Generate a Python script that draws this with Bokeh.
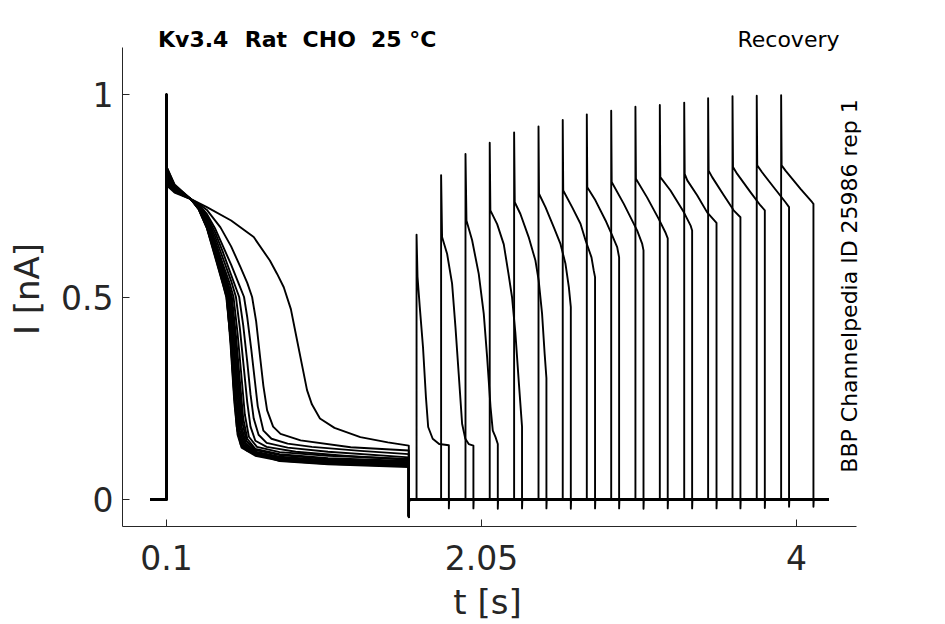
import math
from bokeh.plotting import figure
from bokeh.models import ColumnDataSource, FixedTicker, Label, Range1d
from bokeh.embed import file_html
from bokeh.resources import INLINE

# ---------------- data ----------------
x_ticks = [0.1, 2.05, 4]
x_tick_labels = ["0.1", "2.05", "4"]
y_ticks = [0, 0.5, 1]
y_tick_labels = ["0", "0.5", "1"]

rec_start = 0.0
rec_end = 4.2
pre_on = 0.1
pre_off = 1.6

# capacitive spike at prepulse onset, per sweep
pre_peak = [1.0, 0.9, 1.0, 0.98, 1.0, 0.97, 1.0, 0.99, 1.0, 0.96, 1.0, 0.98, 1.0, 0.99, 1.0, 0.97]
pre_tail = [-0.042, -0.04, -0.042, -0.041, -0.043, -0.04, -0.042, -0.041, -0.044, -0.04, -0.042, -0.041, -0.043, -0.04, -0.042, -0.041]

# prepulse current per sweep (time [s], current [nA])
pre_t = [
    [0.102, 0.13, 0.23, 0.35, 0.5, 0.64, 0.74, 0.785, 0.826, 0.87, 0.9, 0.94, 0.97, 1.0, 1.05, 1.14, 1.3, 1.47, 1.6],
    [0.102, 0.15, 0.25, 0.3, 0.35, 0.434, 0.5, 0.558, 0.6, 0.63, 0.655, 0.68, 0.7, 0.723, 0.76, 0.806, 0.93, 1.24, 1.6],
    [0.102, 0.15, 0.25, 0.3, 0.35, 0.4, 0.45, 0.5, 0.55, 0.58, 0.6, 0.625, 0.645, 0.665, 0.7, 0.75, 0.85, 1.0, 1.3, 1.6],
    [0.102, 0.15, 0.25, 0.3, 0.35, 0.4, 0.45, 0.5, 0.55, 0.575, 0.6, 0.62, 0.64, 0.67, 0.72, 0.85, 1.1, 1.6],
    [0.102, 0.15, 0.25, 0.3, 0.35, 0.4, 0.45, 0.5, 0.53, 0.555, 0.58, 0.6, 0.62, 0.65, 0.72, 0.9, 1.2, 1.6],
    [0.102, 0.15, 0.25, 0.3, 0.35, 0.4, 0.45, 0.49, 0.515, 0.54, 0.565, 0.585, 0.61, 0.66, 0.8, 1.1, 1.6],
    [0.102, 0.15, 0.25, 0.3, 0.35, 0.4, 0.45, 0.48, 0.505, 0.53, 0.555, 0.575, 0.6, 0.65, 0.8, 1.1, 1.6],
    [0.102, 0.15, 0.25, 0.3, 0.35, 0.4, 0.45, 0.475, 0.5, 0.525, 0.55, 0.57, 0.595, 0.65, 0.8, 1.1, 1.6],
    [0.102, 0.15, 0.25, 0.3, 0.35, 0.4, 0.45, 0.47, 0.495, 0.52, 0.545, 0.565, 0.59, 0.65, 0.8, 1.1, 1.6],
    [0.102, 0.15, 0.25, 0.3, 0.35, 0.4, 0.45, 0.465, 0.49, 0.515, 0.54, 0.56, 0.585, 0.65, 0.8, 1.1, 1.6],
    [0.102, 0.15, 0.25, 0.3, 0.35, 0.4, 0.45, 0.46, 0.485, 0.51, 0.535, 0.555, 0.58, 0.65, 0.8, 1.1, 1.6],
    [0.102, 0.15, 0.25, 0.3, 0.35, 0.4, 0.45, 0.455, 0.48, 0.505, 0.53, 0.55, 0.575, 0.65, 0.8, 1.1, 1.6],
    [0.102, 0.15, 0.25, 0.3, 0.35, 0.4, 0.45, 0.477, 0.5, 0.525, 0.545, 0.57, 0.65, 0.8, 1.1, 1.6],
    [0.102, 0.15, 0.25, 0.3, 0.35, 0.4, 0.45, 0.474, 0.497, 0.52, 0.54, 0.565, 0.65, 0.8, 1.1, 1.6],
    [0.102, 0.15, 0.25, 0.3, 0.35, 0.4, 0.45, 0.47, 0.496, 0.515, 0.535, 0.56, 0.6, 0.8, 1.1, 1.6],
    [0.102, 0.15, 0.25, 0.3, 0.35, 0.4, 0.45, 0.472, 0.498, 0.52, 0.54, 0.565, 0.65, 0.8, 1.1, 1.6],
]
pre_i = [
    [0.79, 0.775, 0.746, 0.722, 0.689, 0.648, 0.59, 0.557, 0.524, 0.47, 0.41, 0.33, 0.27, 0.235, 0.2, 0.177, 0.154, 0.141, 0.133],
    [0.80, 0.765, 0.742, 0.73, 0.715, 0.672, 0.625, 0.574, 0.535, 0.5, 0.44, 0.35, 0.28, 0.22, 0.18, 0.162, 0.146, 0.129, 0.121],
    [0.81, 0.77, 0.742, 0.728, 0.705, 0.67, 0.625, 0.58, 0.53, 0.5, 0.45, 0.37, 0.3, 0.23, 0.17, 0.15, 0.138, 0.13, 0.12, 0.112],
    [0.79, 0.76, 0.742, 0.726, 0.7, 0.66, 0.61, 0.555, 0.5, 0.43, 0.34, 0.26, 0.2, 0.16, 0.14, 0.128, 0.118, 0.104],
    [0.82, 0.775, 0.742, 0.724, 0.695, 0.65, 0.595, 0.54, 0.5, 0.42, 0.32, 0.24, 0.18, 0.145, 0.13, 0.118, 0.108, 0.098],
    [0.80, 0.77, 0.742, 0.723, 0.69, 0.64, 0.58, 0.535, 0.5, 0.41, 0.3, 0.21, 0.155, 0.13, 0.117, 0.108, 0.1],
    [0.78, 0.76, 0.742, 0.722, 0.687, 0.635, 0.572, 0.535, 0.5, 0.405, 0.29, 0.2, 0.15, 0.125, 0.112, 0.102, 0.095],
    [0.815, 0.775, 0.742, 0.721, 0.684, 0.63, 0.565, 0.535, 0.5, 0.4, 0.28, 0.19, 0.145, 0.122, 0.11, 0.1, 0.092],
    [0.79, 0.765, 0.742, 0.72, 0.682, 0.626, 0.56, 0.535, 0.5, 0.39, 0.27, 0.18, 0.14, 0.118, 0.106, 0.097, 0.09],
    [0.805, 0.77, 0.742, 0.72, 0.68, 0.622, 0.555, 0.535, 0.5, 0.385, 0.26, 0.175, 0.138, 0.116, 0.104, 0.095, 0.088],
    [0.785, 0.76, 0.742, 0.719, 0.678, 0.618, 0.55, 0.535, 0.5, 0.38, 0.25, 0.17, 0.135, 0.114, 0.102, 0.093, 0.086],
    [0.81, 0.772, 0.742, 0.718, 0.676, 0.614, 0.545, 0.535, 0.5, 0.37, 0.24, 0.165, 0.133, 0.112, 0.1, 0.092, 0.085],
    [0.775, 0.758, 0.742, 0.718, 0.674, 0.61, 0.54, 0.5, 0.385, 0.235, 0.16, 0.13, 0.11, 0.098, 0.09, 0.083],
    [0.80, 0.768, 0.742, 0.717, 0.672, 0.606, 0.535, 0.5, 0.38, 0.24, 0.16, 0.128, 0.108, 0.096, 0.088, 0.082],
    [0.82, 0.778, 0.742, 0.716, 0.67, 0.60, 0.53, 0.5, 0.4, 0.28, 0.18, 0.135, 0.12, 0.095, 0.087, 0.08],
    [0.795, 0.765, 0.742, 0.716, 0.671, 0.603, 0.532, 0.5, 0.39, 0.26, 0.17, 0.132, 0.112, 0.1, 0.092, 0.086],
]

# test pulses
test_start = [1.648, 1.800, 1.951, 2.101, 2.252, 2.403, 2.553, 2.702, 2.853, 3.003, 3.154, 3.305, 3.453, 3.604, 3.754, 3.905]
test_peak = [0.654, 0.801, 0.853, 0.881, 0.906, 0.921, 0.937, 0.951, 0.960, 0.970, 0.974, 0.980, 0.991, 0.996, 0.997, 0.998]
test_tail = [-0.022, -0.022, -0.023, -0.022, -0.022, -0.023, -0.022, -0.022, -0.023, -0.022, -0.022, -0.022, -0.022, -0.021, -0.018, -0.018]
test_dt = [
    [0.006, 0.02, 0.04, 0.058, 0.072, 0.1, 0.14, 0.2],
    [0.006, 0.037, 0.068, 0.089, 0.109, 0.130, 0.150, 0.171, 0.2],
    [0.006, 0.041, 0.082, 0.113, 0.134, 0.155, 0.169, 0.186, 0.2],
    [0.004, 0.046, 0.087, 0.115, 0.138, 0.159, 0.18, 0.2],
    [0.004, 0.039, 0.09, 0.132, 0.152, 0.173, 0.189, 0.2],
    [0.003, 0.043, 0.095, 0.136, 0.167, 0.188, 0.2],
    [0.003, 0.058, 0.11, 0.141, 0.178, 0.192, 0.2],
    [0.003, 0.054, 0.116, 0.157, 0.188, 0.2],
    [0.003, 0.078, 0.161, 0.192, 0.2],
    [0.003, 0.072, 0.144, 0.185, 0.2],
    [0.003, 0.066, 0.149, 0.19, 0.2],
    [0.003, 0.019, 0.08, 0.142, 0.2],
    [0.003, 0.025, 0.097, 0.158, 0.2],
    [0.003, 0.029, 0.111, 0.173, 0.2],
    [0.003, 0.033, 0.105, 0.178, 0.2],
    [0.003, 0.027, 0.12, 0.192, 0.2],
]
test_i = [
    [0.55, 0.475, 0.376, 0.253, 0.179, 0.15, 0.137, 0.134],
    [0.648, 0.607, 0.533, 0.425, 0.31, 0.187, 0.15, 0.137, 0.133],
    [0.689, 0.64, 0.557, 0.459, 0.351, 0.228, 0.17, 0.154, 0.137],
    [0.714, 0.68, 0.63, 0.56, 0.5, 0.41, 0.29, 0.18],
    [0.734, 0.705, 0.648, 0.59, 0.541, 0.459, 0.36, 0.30],
    [0.755, 0.722, 0.672, 0.631, 0.582, 0.524, 0.475],
    [0.763, 0.722, 0.681, 0.64, 0.598, 0.565, 0.549],
    [0.771, 0.738, 0.689, 0.652, 0.623, 0.598],
    [0.784, 0.73, 0.664, 0.631, 0.615],
    [0.792, 0.746, 0.693, 0.66, 0.645],
    [0.796, 0.763, 0.709, 0.677, 0.664],
    [0.804, 0.788, 0.751, 0.709, 0.683],
    [0.812, 0.796, 0.751, 0.714, 0.697],
    [0.821, 0.804, 0.759, 0.726, 0.714],
    [0.825, 0.808, 0.771, 0.734, 0.722],
    [0.825, 0.812, 0.767, 0.734, 0.73],
]

title_words = ["Kv3.4", "Rat", "CHO", "25 °C"]
protocol_text = "Recovery"
side_text = "BBP Channelpedia ID 25986 rep 1"
x_label = "t [s]"
y_label = "I [nA]"

# axis extents (data units)
x_axis_bounds = (-0.1724, 4.3725)
y_axis_bounds = (-0.0667, 1.116)

# ---------------- build sweeps ----------------
xs, ys = [], []
for k in range(len(test_start)):
    t = [rec_start, pre_on, pre_on]
    v = [0.0, 0.0, pre_peak[k]]
    t += pre_t[k]
    v += pre_i[k]
    t += [pre_off, pre_off + 0.002]
    v += [pre_tail[k], 0.0]
    ts = test_start[k]
    t += [ts, ts]
    v += [0.0, test_peak[k]]
    for dt, val in zip(test_dt[k], test_i[k]):
        t.append(ts + dt)
        v.append(val)
    te = ts + test_dt[k][-1]
    t += [te, te + 0.002, rec_end]
    v += [test_tail[k], 0.0, 0.0]
    xs.append(t)
    ys.append(v)

src = ColumnDataSource(dict(xs=xs, ys=ys))

AX = "#262626"
W, H = 937, 624
# the frame covers the whole canvas; the axes are drawn at fixed data
# locations (limited with bounds) so that every text can sit anywhere
p = figure(width=W, height=H,
           x_range=Range1d(-0.9276, 4.873), y_range=Range1d(-0.3086, 1.2321),
           output_backend="svg", toolbar_location=None,
           min_border_left=0, min_border_right=0,
           min_border_top=0, min_border_bottom=0)
p.outline_line_color = None
p.xgrid.visible = False
p.ygrid.visible = False
p.background_fill_color = "white"
p.border_fill_color = "white"

p.multi_line(xs="xs", ys="ys", source=src, line_color="black",
             line_width=1.9, line_join="round")

p.xaxis.ticker = FixedTicker(ticks=x_ticks)
p.xaxis.major_label_overrides = {tv: tl for tv, tl in zip(x_ticks, x_tick_labels)}
p.yaxis.ticker = FixedTicker(ticks=y_ticks)
p.yaxis.major_label_overrides = {tv: tl for tv, tl in zip(y_ticks, y_tick_labels)}
p.xaxis.bounds = x_axis_bounds
p.yaxis.bounds = y_axis_bounds
p.xaxis.fixed_location = y_axis_bounds[0]
p.yaxis.fixed_location = x_axis_bounds[0]

for ax in (p.xaxis[0], p.yaxis[0]):
    ax.axis_line_color = AX
    ax.axis_line_width = 1
    ax.major_tick_line_color = AX
    ax.major_tick_in = 7
    ax.major_tick_out = 0
    ax.minor_tick_line_color = None
    ax.major_label_text_font = "DejaVu Sans"
    ax.major_label_text_font_size = "33px"
    ax.major_label_text_color = AX

p.xaxis.major_label_standoff = 18
p.yaxis.major_label_standoff = 9

# axis titles
p.add_layout(Label(x=2.0871, y=-0.2536, text=x_label,
                   text_font="DejaVu Sans", text_font_size="34px", text_color=AX,
                   text_align="center", text_baseline="alphabetic"))
p.add_layout(Label(x=-0.7605, y=0.5198, text=y_label,
                   text_font="DejaVu Sans", text_font_size="34px", text_color=AX,
                   angle=math.pi / 2, angle_units="rad",
                   text_align="center", text_baseline="alphabetic"))

title_x = [0.0474, 0.5841, 0.9425, 1.3653]
title_y = 1.1346
for word, wx in zip(title_words, title_x):
    p.add_layout(Label(x=wx, y=title_y, text=word,
                       text_font="DejaVu Sans", text_font_size="22px",
                       text_font_style="bold", text_color="black",
                       text_align="left", text_baseline="alphabetic"))
p.add_layout(Label(x=4.2662, y=title_y, text=protocol_text,
                   text_font="DejaVu Sans", text_font_size="22px", text_color="black",
                   text_align="right", text_baseline="alphabetic"))
p.add_layout(Label(x=4.3299, y=0.5272, text=side_text,
                   text_font="DejaVu Sans", text_font_size="22px", text_color="black",
                   angle=math.pi / 2, angle_units="rad",
                   text_align="center", text_baseline="alphabetic"))

open("out.html", "w").write(file_html(p, INLINE))
